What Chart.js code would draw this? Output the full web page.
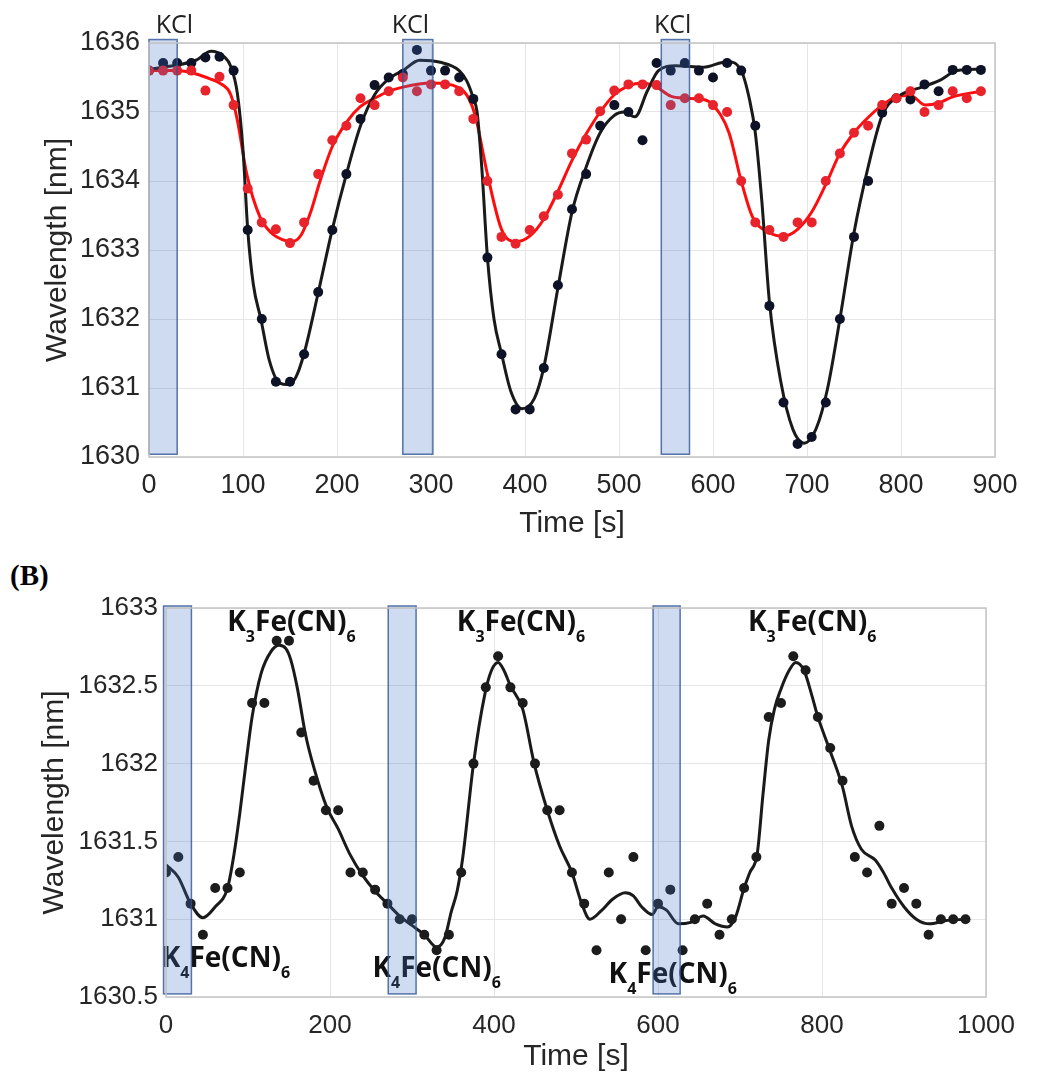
<!DOCTYPE html>
<html>
<head>
<meta charset="utf-8">
<title>Wavelength vs time</title>
<script src="https://cdn.jsdelivr.net/npm/chart.js@4.4.0/dist/chart.umd.min.js"></script>
<style>
  html, body { margin: 0; padding: 0; background: #fff; }
  body { width: 1039px; height: 1075px; position: relative; overflow: hidden; }
  canvas { position: absolute; left: 0; }
  #chartA { top: 0; }
  #chartB { top: 545px; }
  #labelB { position: absolute; left: 10px; top: 561px; font: bold 29px "Liberation Serif", serif; line-height: 29px; color: #000; }
</style>
</head>
<body>
<canvas id="chartA" width="1039" height="545"></canvas>
<div id="labelB">(B)</div>
<canvas id="chartB" width="1039" height="530"></canvas>
<script>
// ---- panel A: KCl pulses ----
const timeA = [0, 15, 30, 45, 60, 75, 90, 105, 120, 135, 150, 165, 180, 195, 210, 225, 240, 255, 270, 285,
  300, 315, 330, 345, 360, 375, 390, 405, 420, 435, 450, 465, 480, 495, 510, 525, 540, 555, 570, 585,
  600, 615, 630, 645, 660, 675, 690, 705, 720, 735, 750, 765, 780, 795, 810, 825, 840, 855, 870, 885];
const blackA = [1635.60, 1635.71, 1635.71, 1635.71, 1635.79, 1635.80, 1635.60, 1633.29, 1632.00, 1631.09,
  1631.09, 1631.49, 1632.39, 1633.29, 1634.10, 1634.90, 1635.39, 1635.50, 1635.55, 1635.90,
  1635.60, 1635.60, 1635.50, 1635.19, 1632.89, 1631.49, 1630.69, 1630.69, 1631.29, 1632.49,
  1633.59, 1634.10, 1634.80, 1635.10, 1635.00, 1634.59, 1635.71, 1635.60, 1635.71, 1635.60,
  1635.50, 1635.71, 1635.60, 1634.80, 1632.19, 1630.79, 1630.19, 1630.29, 1630.79, 1632.00,
  1633.19, 1634.00, 1634.99, 1635.20, 1635.18, 1635.40, 1635.30, 1635.61, 1635.61, 1635.61];
const redA = [1635.60, 1635.60, 1635.60, 1635.60, 1635.31, 1635.51, 1635.10, 1633.89, 1633.40, 1633.30,
  1633.10, 1633.40, 1634.10, 1634.59, 1634.80, 1635.20, 1635.10, 1635.30, 1635.50, 1635.30,
  1635.40, 1635.40, 1635.30, 1634.90, 1634.00, 1633.19, 1633.09, 1633.29, 1633.49, 1633.80,
  1634.40, 1634.60, 1635.01, 1635.31, 1635.40, 1635.40, 1635.39, 1635.10, 1635.20, 1635.20,
  1635.10, 1635.00, 1634.00, 1633.40, 1633.29, 1633.19, 1633.40, 1633.40, 1634.00, 1634.40,
  1634.70, 1634.80, 1635.10, 1635.20, 1635.30, 1635.00, 1635.10, 1635.30, 1635.20, 1635.30];

// smooth fits
const blackFitTimeA = [0, 30, 50, 66, 80, 87, 94, 100, 105, 111, 119, 128, 139, 148, 156, 165, 180, 195, 210, 225,
  240, 255, 270, 288, 310, 330, 338, 345, 349, 354, 360, 367, 375, 385, 397, 410, 420, 435, 450, 465,
  480, 495, 505, 517, 530, 542, 560, 590, 615, 630, 639, 645, 652, 660, 672, 685, 697, 710, 722, 735,
  750, 765, 780, 800, 820, 840, 860, 885];
const blackFitA = [1635.62, 1635.68, 1635.75, 1635.88, 1635.80, 1635.66, 1635.27, 1634.45, 1633.30, 1632.50, 1632.00, 1631.40, 1631.07, 1631.05, 1631.15, 1631.50, 1632.38, 1633.30, 1634.10, 1634.80,
  1635.25, 1635.48, 1635.60, 1635.75, 1635.72, 1635.60, 1635.45, 1635.20, 1635.00, 1634.20, 1632.90, 1632.00, 1631.50, 1630.95, 1630.70, 1630.85, 1631.30, 1632.45, 1633.55, 1634.20,
  1634.70, 1634.95, 1635.00, 1634.93, 1635.30, 1635.60, 1635.67, 1635.65, 1635.73, 1635.60, 1635.17, 1634.70, 1633.70, 1632.25, 1631.10, 1630.40, 1630.20, 1630.42, 1631.00, 1632.00,
  1633.25, 1634.20, 1634.95, 1635.25, 1635.35, 1635.45, 1635.60, 1635.62];
const redFitTimeA = [0, 30, 50, 65, 75, 87, 94, 104, 118, 130, 142, 152, 162, 172, 182, 195, 210, 225, 240, 255,
  270, 300, 330, 340, 347, 360, 375, 390, 405, 420, 435, 450, 465, 480, 495, 510, 525, 540, 555, 570,
  590, 600, 617, 630, 642, 660, 675, 690, 705, 720, 735, 750, 765, 780, 795, 810, 826, 840, 855, 885];
const redFitA = [1635.60, 1635.60, 1635.55, 1635.48, 1635.42, 1635.25, 1634.88, 1634.10, 1633.48, 1633.25, 1633.15, 1633.12, 1633.22, 1633.55, 1634.00, 1634.50, 1634.85, 1635.08, 1635.20, 1635.30,
  1635.36, 1635.42, 1635.35, 1635.20, 1634.95, 1634.10, 1633.30, 1633.12, 1633.20, 1633.45, 1633.85, 1634.30, 1634.68, 1635.00, 1635.25, 1635.38, 1635.42, 1635.36, 1635.23, 1635.20,
  1635.18, 1635.10, 1634.70, 1634.00, 1633.48, 1633.25, 1633.20, 1633.30, 1633.55, 1633.95, 1634.40, 1634.70, 1634.92, 1635.10, 1635.22, 1635.24, 1635.10, 1635.13, 1635.22, 1635.30];

const kclStart = [0, 270, 545];
const kclEnd = [30, 302, 575];
const kclLabelAt = [27, 278, 557];

// ---- panel B: ferro/ferricyanide pulses ----
const timeB = [0, 15, 30, 45, 60, 75, 90, 105, 120, 135, 150, 165, 180, 195, 210, 225, 240, 255, 270, 285,
  300, 315, 330, 345, 360, 375, 390, 405, 420, 435, 450, 465, 480, 495, 510, 525, 540, 555, 570, 585,
  600, 615, 630, 645, 660, 675, 690, 705, 720, 735, 750, 765, 780, 795, 810, 825, 840, 855, 870, 885,
  900, 915, 930, 945, 960, 975];
const valuesB = [1631.30, 1631.40, 1631.10, 1630.90, 1631.20, 1631.20, 1631.30, 1632.39, 1632.39, 1632.79,
  1632.79, 1632.20, 1631.89, 1631.70, 1631.70, 1631.30, 1631.30, 1631.19, 1631.10, 1631.00,
  1631.00, 1630.90, 1630.80, 1630.90, 1631.30, 1632.00, 1632.49, 1632.69, 1632.49, 1632.39,
  1632.00, 1631.70, 1631.70, 1631.30, 1631.10, 1630.80, 1631.30, 1631.00, 1631.40, 1630.80,
  1631.10, 1631.19, 1630.80, 1631.00, 1631.10, 1630.90, 1631.00, 1631.20, 1631.40, 1632.30,
  1632.39, 1632.69, 1632.60, 1632.30, 1632.10, 1631.89, 1631.40, 1631.30, 1631.60, 1631.10,
  1631.20, 1631.10, 1630.90, 1631.00, 1631.00, 1631.00];
const fitTimeB = [0, 15, 30, 45, 60, 75, 83, 90, 97, 105, 116, 128, 138, 146, 152, 160, 170, 180, 196, 210,
  224, 240, 255, 270, 285, 300, 315, 330, 340, 348, 355, 362, 375, 389, 397, 405, 412, 420, 435, 449,
  465, 480, 495, 507, 517, 530, 545, 560, 570, 580, 593, 600, 610, 625, 640, 655, 670, 685, 695, 705,
  712, 721, 728, 735, 742, 750, 760, 768, 778, 787, 795, 810, 825, 836, 848, 865, 875, 885, 900, 915,
  931, 950, 975];
const fitB = [1631.35, 1631.27, 1631.10, 1631.01, 1631.08, 1631.20, 1631.42, 1631.68, 1631.98, 1632.30, 1632.58, 1632.72, 1632.76, 1632.74, 1632.67, 1632.49, 1632.19, 1631.98, 1631.72, 1631.58,
  1631.42, 1631.28, 1631.18, 1631.10, 1631.02, 1630.96, 1630.90, 1630.82, 1630.88, 1631.05, 1631.18, 1631.40, 1632.00, 1632.45, 1632.60, 1632.65, 1632.60, 1632.50, 1632.35, 1632.00,
  1631.70, 1631.47, 1631.30, 1631.10, 1631.00, 1631.05, 1631.13, 1631.17, 1631.15, 1631.08, 1631.03, 1631.08, 1631.06, 1630.97, 1630.98, 1631.02, 1630.97, 1630.95, 1631.02, 1631.20,
  1631.30, 1631.42, 1631.80, 1632.15, 1632.35, 1632.48, 1632.60, 1632.65, 1632.60, 1632.45, 1632.30, 1632.08, 1631.85, 1631.60, 1631.45, 1631.38, 1631.30, 1631.20, 1631.08, 1631.00,
  1630.97, 1630.99, 1631.00];

const pulseStartB = [-3, 271, 594];
const pulseEndB = [31, 305, 627];
// labels: [time, wavelength] anchors for the formula text
const k3LabelAt = [[153, 1632.855], [433, 1632.855], [788, 1632.855]];
const k4LabelAt = [[73, 1630.69], [330, 1630.63], [618, 1630.59]];

const TXT = "#262626";
const SANS = '"Liberation Sans", Arial, sans-serif';

function pts(xs, ys) {
  return xs.map((x, i) => ({ x: x, y: ys[i] }));
}

function dots(data, color, r) {
  return { data: data, showLine: false, pointRadius: r, pointBackgroundColor: color, pointBorderWidth: 0 };
}

function fit(data, color) {
  return { data: data, showLine: true, pointRadius: 0, borderColor: color, borderWidth: 3,
    cubicInterpolationMode: "monotone", fill: false };
}

function drawFormula(ctx, cx, base, sub) {
  const big = 'bold 28px "Open Sans", sans-serif';
  const small = 'bold 16px "Open Sans", sans-serif';
  const parts = [["K", big, 0], [sub, small, 11], ["Fe(CN)", big, 0], ["6", small, 11]];
  let total = 0;
  parts.forEach(p => { ctx.font = p[1]; total += ctx.measureText(p[0]).width; });
  let x = cx - total / 2;
  ctx.textAlign = "left";
  ctx.textBaseline = "alphabetic";
  ctx.fillStyle = "#111";
  parts.forEach(p => {
    ctx.font = p[1];
    ctx.fillText(p[0], x, base + p[2]);
    x += ctx.measureText(p[0]).width;
  });
}

function shadeBands(chart, starts, ends, yTop, yBottom) {
  const { ctx, scales: { x, y } } = chart;
  ctx.save();
  for (let i = 0; i < starts.length; i++) {
    const left = x.getPixelForValue(starts[i]);
    const right = x.getPixelForValue(ends[i]);
    const top = y.getPixelForValue(yTop);
    const bottom = y.getPixelForValue(yBottom);
    ctx.fillStyle = "rgba(68,114,196,0.26)";
    ctx.fillRect(left, top, right - left, bottom - top);
    ctx.strokeStyle = "rgba(47,84,150,0.8)";
    ctx.lineWidth = 1.5;
    ctx.strokeRect(left, top, right - left, bottom - top);
  }
  ctx.restore();
}

function drawBox(chart) {
  const { ctx, chartArea: a } = chart;
  ctx.save();
  ctx.strokeStyle = "#c4c4c4";
  ctx.lineWidth = 1.5;
  ctx.strokeRect(a.left, a.top, a.right - a.left, a.bottom - a.top);
  ctx.restore();
}

function scaleOpts(min, max, step, fontSize, tickPad, axisTitle, titlePad, fitSize, horizontal) {
  return {
    type: "linear",
    min: min,
    max: max,
    ticks: { stepSize: step, color: TXT, padding: tickPad, font: { family: SANS, size: fontSize },
      callback: v => String(v) },
    grid: { color: "#e6e6e6", lineWidth: 1, drawTicks: false },
    border: { display: false },
    title: { display: true, text: axisTitle, color: TXT, font: { family: SANS, size: 30 }, padding: titlePad },
    afterFit: horizontal ? (s => { s.height = fitSize; }) : (s => { s.width = fitSize; })
  };
}

const panelA = {
  id: "panelA",
  afterDatasetsDraw(chart) {
    const { ctx, scales: { x, y } } = chart;
    ctx.save();
    ctx.font = '25px "Open Sans", sans-serif';
    ctx.fillStyle = "#222";
    ctx.textAlign = "center";
    ctx.textBaseline = "alphabetic";
    kclLabelAt.forEach(t => ctx.fillText("KCl", x.getPixelForValue(t), y.getPixelForValue(1636.145)));
    ctx.restore();
    shadeBands(chart, kclStart, kclEnd, 1636.05, 1630.04);
    drawBox(chart);
  }
};

const panelB = {
  id: "panelB",
  afterDatasetsDraw(chart) {
    const { ctx, scales: { x, y } } = chart;
    ctx.save();
    k3LabelAt.forEach(p => drawFormula(ctx, x.getPixelForValue(p[0]), y.getPixelForValue(p[1]), "3"));
    k4LabelAt.forEach(p => drawFormula(ctx, x.getPixelForValue(p[0]), y.getPixelForValue(p[1]), "4"));
    ctx.restore();
    shadeBands(chart, pulseStartB, pulseEndB, 1633.013, 1630.52);
    drawBox(chart);
  }
};

const common = {
  responsive: false,
  animation: false,
  events: [],
  plugins: { legend: { display: false }, tooltip: { enabled: false } }
};

new Chart(document.getElementById("chartA"), {
  type: "scatter",
  data: {
    datasets: [
      dots(pts(timeA, redA), "#e8232b", 5),
      dots(pts(timeA, blackA), "#0d1226", 5),
      fit(pts(blackFitTimeA, blackFitA), "#1a1a1a"),
      fit(pts(redFitTimeA, redFitA), "#ff0d0d")
    ]
  },
  options: Object.assign({}, common, {
    layout: { padding: { left: 0, right: 44, top: 43, bottom: 0 } },
    scales: {
      x: scaleOpts(0, 900, 100, 27, 12, "Time [s]", { top: 0, bottom: 3 }, 88, true),
      y: scaleOpts(1630, 1636, 1, 27, 9, "Wavelength [nm]", { top: 40, bottom: 0 }, 149, false)
    }
  }),
  plugins: [panelA]
});

new Chart(document.getElementById("chartB"), {
  type: "scatter",
  data: {
    datasets: [
      dots(pts(timeB, valuesB), "#1c1c1c", 5),
      fit(pts(fitTimeB, fitB), "#1a1a1a")
    ]
  },
  options: Object.assign({}, common, {
    layout: { padding: { left: 0, right: 53, top: 63, bottom: 0 } },
    scales: {
      x: scaleOpts(0, 1000, 200, 26, 13, "Time [s]", { top: 0, bottom: 0 }, 78, true),
      y: scaleOpts(1630.5, 1633, 0.5, 26, 8, "Wavelength [nm]", { top: 37, bottom: 0 }, 166, false)
    }
  }),
  plugins: [panelB]
});
</script>
</body>
</html>
